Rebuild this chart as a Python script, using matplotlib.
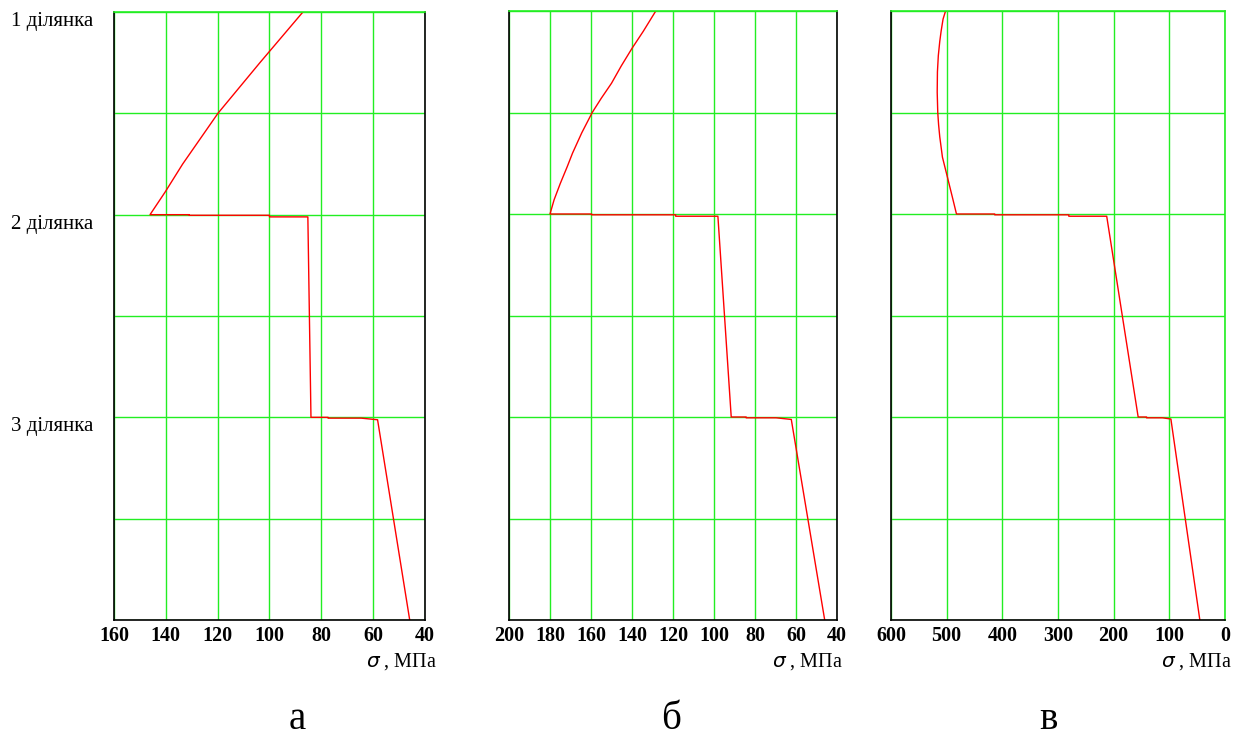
"""
Епюри напружень sigma по ділянках (а, б, в).
Зберігає out.png
"""

import matplotlib
matplotlib.use("Agg")
import matplotlib.pyplot as plt
from matplotlib.transforms import blended_transform_factory

plt.rcParams["font.family"] = ["Liberation Serif", "DejaVu Serif"]

W, H = 1251, 738
GRID = "#22ee22"
RED = "#ff0000"

# ── дані (sigma, МПа  vs  координата по ділянках) ──
a_y     = [0.0, 0.25, 0.5, 0.75, 0.887, 1.0, 1.0, 1.003, 1.003, 1.011, 1.011,
           2.0, 2.0, 2.004, 2.004, 2.012, 3.0]
a_sigma = [87.1, 103.7, 119.9, 133.5, 140.2, 146.1, 131.0, 131.0, 100.0, 100.0, 85.2,
           84.0, 77.4, 77.4, 64.6, 58.3, 45.9]

b_y     = [0.0, 0.1, 0.184, 0.27, 0.356, 0.43, 0.5, 0.6, 0.7, 0.767, 0.85, 0.93, 1.0,
           1.0, 1.004, 1.004, 1.011, 1.011,
           2.0, 2.0, 2.004, 2.004, 2.012, 3.0]
b_sigma = [128.4, 134.5, 140.0, 145.2, 150.0, 155.0, 159.4, 164.5, 169.0, 171.6, 175.0, 178.0, 180.0,
           159.7, 159.7, 118.7, 118.7, 98.1,
           91.6, 84.3, 84.3, 69.7, 62.3, 46.0]

v_y     = [0.0, 0.04, 0.1, 0.15, 0.22, 0.3, 0.4, 0.5, 0.56, 0.62, 0.72, 0.83, 0.93, 1.0,
           1.0, 1.004, 1.004, 1.011, 1.011,
           2.0, 2.0, 2.004, 2.004, 2.01, 3.0]
v_sigma = [502.0, 506.5, 510.0, 512.4, 515.0, 516.6, 517.0, 516.0, 514.5, 512.4, 507.6, 497.6, 488.6, 482.4,
           413.7, 413.7, 280.6, 280.6, 212.5,
           156.0, 140.9, 140.9, 112.2, 97.2, 45.2]

section_labels = ["1 ділянка", "2 ділянка", "3 ділянка"]
section_y = [0.0, 1.0, 2.0]

panels = [
    # (y, sigma, xlim, xticks, axes px box, sigma-label px, letter, letter px)
    (a_y, a_sigma, (160, 40), list(range(160, 39, -20)), (114, 12, 425, 620), (437, 667), "а", (297, 729)),
    (b_y, b_sigma, (200, 40), list(range(200, 39, -20)), (509, 11, 837, 620), (843, 667), "б", (671, 729)),
    (v_y, v_sigma, (600, 0), list(range(600, -1, -100)), (891, 11, 1225, 620), (1232, 667), "в", (1048, 729)),
]

fig = plt.figure(figsize=(W / 100, H / 100), dpi=100)

for i, (ys, xs, xlim, xticks, box, lab_px, letter, let_px) in enumerate(panels):
    x0, y0, x1, y1 = box
    ax = fig.add_axes([x0 / W, 1 - y1 / H, (x1 - x0) / W, (y1 - y0) / H])
    ax.set_xlim(*xlim)
    ax.set_ylim(3, 0)
    ax.set_xticks(xticks)
    ax.set_yticks([0, 0.5, 1, 1.5, 2, 2.5, 3])
    ax.set_yticklabels([])
    ax.grid(True, color=GRID, lw=1.0)
    ax.set_axisbelow(True)
    ax.tick_params(length=0, pad=4, labelsize=14.5)
    for t in ax.get_xticklabels():
        t.set_fontweight("bold")
    for s in ax.spines.values():
        s.set_color("black")
        s.set_linewidth(1.2)
    ax.spines["top"].set_color(GRID)
    if i == 2:
        ax.spines["right"].set_color(GRID)

    ax.plot(xs, ys, color=RED, lw=1.0)

    if i == 0:
        tr = blended_transform_factory(fig.transFigure, ax.transData)
        for lbl, yv in zip(section_labels, section_y):
            ax.text(93 / W, yv, lbl, transform=tr, ha="right", va="top",
                    fontsize=15)

    fig.text(lab_px[0] / W, 1 - lab_px[1] / H, r"$\mathit{\sigma}$ , МПа",
             ha="right", va="baseline", fontsize=14.5)
    fig.text(let_px[0] / W, 1 - let_px[1] / H, letter, ha="center",
             va="baseline", fontsize=28)

fig.savefig("out.png", dpi=100)
